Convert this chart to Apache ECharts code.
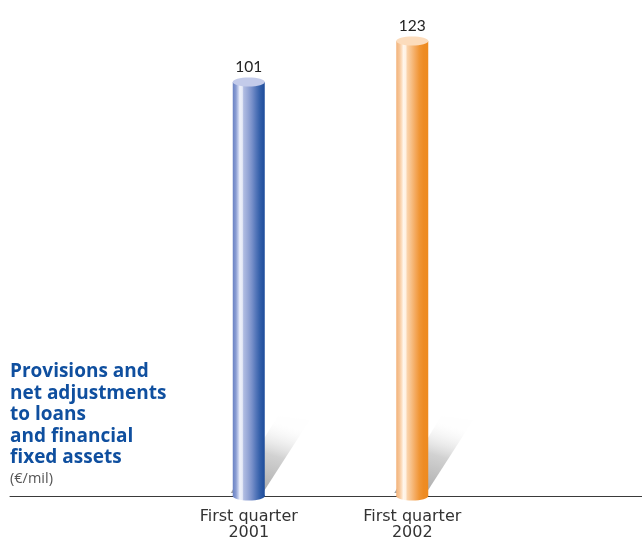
<!DOCTYPE html>
<html>
<head>
<meta charset="utf-8">
<script src="https://cdn.jsdelivr.net/npm/echarts@6/dist/echarts.min.js"></script>
<style>html,body{margin:0;padding:0;background:#fff}#c{width:642px;height:543px}</style>
</head>
<body>
<div id="c"></div>
<script>
const categories = ['First quarter\n2001', 'First quarter\n2002'];
const values = [101, 123];
const titleLines = ['Provisions and', 'net adjustments', 'to loans', 'and financial', 'fixed assets'];
const unitLabel = '(€/mil)';

const Y_MIN = -121, Y_MAX = 130;
const BAR_W = 32, RY = 4.5;

const bodyStops = [
  [[0, '#6a82c4'], [0.1, '#8a9dd3'], [0.18, '#c9d2ee'], [0.22, '#eef1fa'], [0.3, '#e6eaf7'], [0.34, '#b0bce2'], [0.48, '#95a6d6'], [0.6, '#7890ca'], [0.72, '#5577ba'], [0.85, '#335fa9'], [1, '#1d4c9b']],
  [[0, '#f3b27a'], [0.1, '#f7c698'], [0.18, '#fde2c7'], [0.22, '#fff6ec'], [0.3, '#fff1e2'], [0.34, '#fad4ad'], [0.48, '#f7bd82'], [0.6, '#f4a85c'], [0.72, '#f09636'], [0.85, '#ee8c24'], [1, '#ee8a1e']]
];
const topColors = ['#c3cbea', '#fcdcbc'];

function grad(stops) {
  return new echarts.graphic.LinearGradient(0, 0, 1, 0, stops.map(s => ({offset: s[0], color: s[1]})));
}

const chart = echarts.init(document.getElementById('c'), null, {renderer: 'canvas'});
chart.setOption({
  animation: false,
  backgroundColor: '#fff',
  title: {
    text: titleLines.join('\n'),
    subtext: unitLabel,
    left: 10,
    top: 361,
    itemGap: 0,
    padding: 0,
    textStyle: {fontFamily: 'Open Sans', fontWeight: 'bold', fontSize: 19, color: '#0f4f9f', lineHeight: 21.5},
    subtextStyle: {fontFamily: 'Open Sans', fontSize: 14.5, color: '#555', lineHeight: 20}
  },
  grid: [
    {left: 167, right: 148, top: 28, bottom: 47},
    {left: 10, right: 0, top: 28, bottom: 47}
  ],
  xAxis: [
    {type: 'category', gridIndex: 0, data: categories,
     axisLine: {show: false}, axisTick: {show: false},
     axisLabel: {color: '#333', fontFamily: 'DejaVu Sans', fontSize: 16, lineHeight: 16, margin: 13}},
    {type: 'value', gridIndex: 1, min: 0, max: 1,
     axisLine: {show: true, lineStyle: {color: '#3a3a3a', width: 1}},
     axisTick: {show: false}, axisLabel: {show: false}, splitLine: {show: false}}
  ],
  yAxis: [
    {type: 'value', gridIndex: 0, min: Y_MIN, max: Y_MAX, show: false, splitLine: {show: false}},
    {type: 'value', gridIndex: 1, min: 0, max: 1, show: false, splitLine: {show: false}}
  ],
  series: [{
    type: 'custom',
    xAxisIndex: 0, yAxisIndex: 0,
    data: values.map((v, i) => [i, v]),
    renderItem: function (params, api) {
      const i = api.value(0);
      const v = api.value(1);
      const top = api.coord([i, v]);
      const base = api.coord([i, Y_MIN]);
      const cx = top[0];
      const x0 = cx - BAR_W / 2;
      const shadow = {
        type: 'polygon',
        shape: {points: [[cx - 18, base[1] - 3], [cx + 14, base[1] - 3], [cx + 61, base[1] - 76], [cx + 29, base[1] - 80]]},
        style: {fill: new echarts.graphic.LinearGradient(0, 1, 0.3, 0, [
          {offset: 0, color: 'rgba(160,160,160,1)'},
          {offset: 0.6, color: 'rgba(205,205,205,0.9)'},
          {offset: 1, color: 'rgba(250,250,250,0.2)'}
        ])}
      };
      const bottom = {type: 'ellipse', shape: {cx: cx, cy: base[1], rx: BAR_W / 2, ry: RY}, style: {fill: grad(bodyStops[i])}};
      const body = {type: 'rect', shape: {x: x0, y: top[1], width: BAR_W, height: base[1] - top[1]}, style: {fill: grad(bodyStops[i])}};
      const cap = {type: 'ellipse', shape: {cx: cx, cy: top[1], rx: BAR_W / 2, ry: RY}, style: {fill: topColors[i]}};
      const label = {type: 'text', x: cx, y: top[1] - RY - 11,
        style: {text: String(v), fill: '#222', font: '15.5px Lato', align: 'center', verticalAlign: 'middle'}};
      return {type: 'group', children: [shadow, bottom, body, cap, label]};
    }
  }]
});
</script>
</body>
</html>
